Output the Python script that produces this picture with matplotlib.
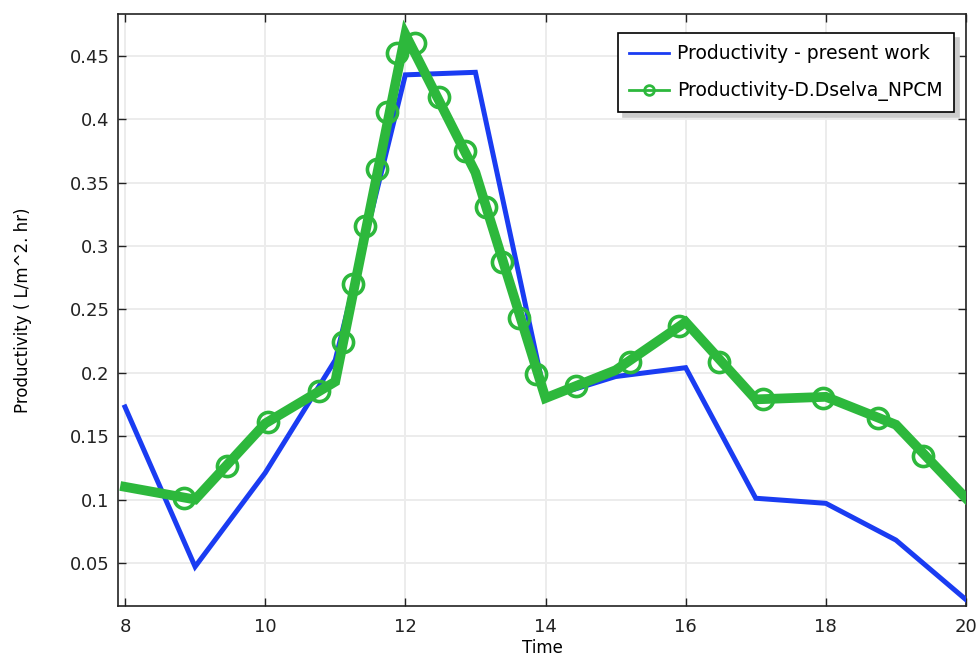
import matplotlib
matplotlib.use("Agg")
import matplotlib.pyplot as plt
from matplotlib.lines import Line2D

plt.rcParams['font.family'] = ['DejaVu Sans']

# Present work (blue)
time_blue = [8, 9, 10, 11, 12, 13, 14, 15, 16, 17, 18, 19, 20]
prod_blue = [0.173, 0.047, 0.121, 0.21, 0.435, 0.437, 0.180, 0.197, 0.204, 0.101, 0.097, 0.068, 0.021]

# D.Dselva NPCM (green) line vertices
time_green = [8, 9, 10, 11, 12, 13, 14, 15, 16, 17, 18, 19, 20]
prod_green = [0.110, 0.100, 0.160, 0.193, 0.467, 0.358, 0.180, 0.202, 0.240, 0.179, 0.181, 0.159, 0.101]

# Marker positions along the green curve
mark_time = [8.84, 9.46, 10.04, 10.77, 11.11, 11.26, 11.43, 11.60, 11.74, 11.88, 12.14, 12.48,
             12.85, 13.15, 13.38, 13.62, 13.87, 14.44, 15.20, 15.90, 16.48, 17.10, 17.96, 18.75, 19.38]
mark_prod = [0.101, 0.1265, 0.1615, 0.1857, 0.2245, 0.270, 0.3154, 0.361, 0.406, 0.452, 0.460, 0.4174,
             0.3753, 0.331, 0.2876, 0.243, 0.1988, 0.1896, 0.2088, 0.237, 0.2088, 0.1793, 0.1804, 0.164, 0.1346]

xticks = [8, 10, 12, 14, 16, 18, 20]
yticks = [0.05, 0.1, 0.15, 0.2, 0.25, 0.3, 0.35, 0.4, 0.45]
yticklabels = ['0.05', '0.1', '0.15', '0.2', '0.25', '0.3', '0.35', '0.4', '0.45']

blue = '#1a3cf2'
green = '#2db83c'

fig = plt.figure(figsize=(9.78, 6.57), dpi=100)
ax = fig.add_axes([118/978, 51/657, (966-118)/978, (606-14)/657])

ax.plot(time_blue, prod_blue, color=blue, lw=3.6, solid_joinstyle='miter', zorder=3)
ax.plot(time_green, prod_green, color=green, lw=7, solid_joinstyle='miter', zorder=4)
ax.plot(mark_time, mark_prod, ls='none', marker='o', ms=14.5, mfc='none', mec=green, mew=2.6, zorder=5)

ax.set_xlim(7.9, 20.0)
ax.set_ylim(0.016, 0.483)
ax.set_xticks(xticks)
ax.set_yticks(yticks)
ax.set_yticklabels(yticklabels)
ax.grid(True, color='#ececec', lw=1.4, zorder=0)
ax.set_axisbelow(True)
ax.tick_params(direction='in', top=True, right=True, length=5.5, width=1, labelsize=13, colors='#222222', pad=6)
ax.tick_params(axis='x', pad=9)
for s in ax.spines.values():
    s.set_color('#222222')
    s.set_linewidth(1.2)

ax.set_xlabel('Time', fontsize=12, labelpad=2)
ax.set_ylabel('Productivity ( L/m^2. hr)', fontsize=12, labelpad=27)

handles = [Line2D([], [], color=blue, lw=2),
           Line2D([], [], color=green, lw=2, marker='o', ms=7, mfc='none', mec=green, mew=2)]
leg = ax.legend(handles, ['Productivity - present work', 'Productivity-D.Dselva_NPCM'],
                loc='upper right', bbox_to_anchor=(954/978, (657-33)/657),
                bbox_transform=fig.transFigure, borderaxespad=0, fontsize=13.5,
                frameon=True, fancybox=False, shadow={'color': '#cccccc', 'alpha': 1, 'ox': 3.5, 'oy': -3.5},
                framealpha=1, edgecolor='black',
                handlelength=2.1, handletextpad=0.45, borderpad=0.6, labelspacing=0.95)
leg.get_frame().set_linewidth(1.2)

fig.savefig('out.png', dpi=100)
